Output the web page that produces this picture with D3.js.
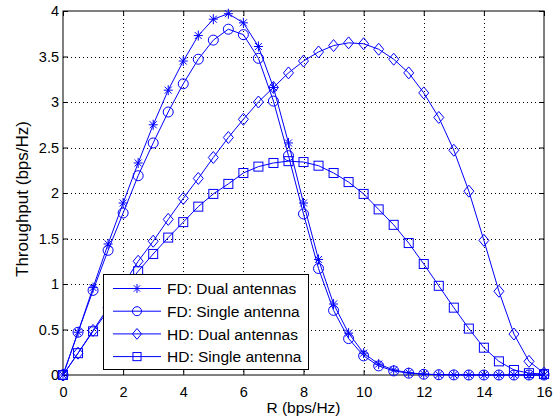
<!DOCTYPE html>
<html><head><meta charset="utf-8">
<script src="https://cdn.jsdelivr.net/npm/d3@7"></script>
<style>body{margin:0;background:#fff}svg text{font-family:"Liberation Sans",Arial,sans-serif}</style>
</head><body>
<svg id="c" width="555" height="419"></svg>
<script>
const R = d3.range(0, 16.01, 0.5);
const fdDual = [0,0.47,0.96,1.44,1.89,2.33,2.75,3.13,3.45,3.73,3.91,3.97,3.87,3.61,3.16,2.55,1.89,1.27,0.78,0.46,0.24,0.12,0.055,0.025,0.01,0.004,0.002,0.001,0,0,0,0,0];
const fdSingle = [0,0.47,0.93,1.37,1.78,2.19,2.55,2.89,3.2,3.47,3.68,3.8,3.74,3.48,3.01,2.41,1.77,1.17,0.71,0.40,0.21,0.10,0.045,0.02,0.008,0.003,0.001,0,0,0,0,0,0];
const hdDual = [0,0.24,0.49,0.74,0.99,1.25,1.47,1.71,1.94,2.16,2.39,2.61,2.81,3.0,3.16,3.32,3.45,3.55,3.62,3.65,3.64,3.58,3.47,3.32,3.10,2.83,2.47,2.02,1.48,0.92,0.45,0.15,0.02];
const hdSingle = [0,0.24,0.48,0.71,0.93,1.14,1.33,1.51,1.68,1.85,1.99,2.1,2.22,2.29,2.33,2.35,2.34,2.30,2.22,2.12,1.99,1.82,1.65,1.45,1.22,0.98,0.74,0.51,0.30,0.15,0.055,0.02,0.01];
const xTicks = [0,2,4,6,8,10,12,14,16];
const yTicks = [0,0.5,1,1.5,2,2.5,3,3.5,4];
const seriesNames = ["FD: Dual antennas","FD: Single antenna","HD: Dual antennas","HD: Single antenna"];
const seriesMarkers = ["asterisk","circle","diamond","square"];

const svg = d3.select("#c");
const L=63, Rr=544, T=11, B=375;
const x = d3.scaleLinear().domain([0,16]).range([L,Rr]);
const y = d3.scaleLinear().domain([0,4]).range([B,T]);
const blue = "#0000ff";

// grid
const g = svg.append("g");
g.selectAll(".gx").data(xTicks.slice(1,-1)).enter().append("line")
 .attr("x1",d=>Math.round(x(d))+0.5).attr("x2",d=>Math.round(x(d))+0.5).attr("y1",T).attr("y2",B)
 .attr("stroke","#000").attr("stroke-width",1).attr("stroke-dasharray","1,3");
g.selectAll(".gy").data(yTicks.slice(1,-1)).enter().append("line")
 .attr("y1",d=>Math.round(y(d))+0.5).attr("y2",d=>Math.round(y(d))+0.5).attr("x1",L).attr("x2",Rr)
 .attr("stroke","#000").attr("stroke-width",1).attr("stroke-dasharray","1,3");

// axes
const fmt = d=>String(d);
const ax = svg.append("g").attr("transform",`translate(0,${B})`)
 .call(d3.axisBottom(x).tickValues(xTicks).tickFormat(fmt).tickSizeInner(-5).tickSizeOuter(0).tickPadding(12));
const axT = svg.append("g").attr("transform",`translate(0,${T})`)
 .call(d3.axisTop(x).tickValues(xTicks).tickFormat("").tickSizeInner(-5).tickSizeOuter(0));
const ay = svg.append("g").attr("transform",`translate(${L},0)`)
 .call(d3.axisLeft(y).tickValues(yTicks).tickFormat(fmt).tickSizeInner(-5).tickSizeOuter(0).tickPadding(4));
const ayR = svg.append("g").attr("transform",`translate(${Rr},0)`)
 .call(d3.axisRight(y).tickValues(yTicks).tickFormat("").tickSizeInner(-5).tickSizeOuter(0));
[ax,axT,ay,ayR].forEach(a=>{a.select(".domain").remove();a.selectAll("line").attr("stroke","#000");a.selectAll("text").attr("font-size",14.5).attr("fill","#000");});
svg.append("rect").attr("x",L).attr("y",T).attr("width",Rr-L).attr("height",B-T)
 .attr("fill","none").attr("stroke","#000").attr("stroke-width",1);

// axis labels
svg.append("text").attr("x",(L+Rr)/2).attr("y",413).attr("text-anchor","middle").attr("font-size",15.5).text("R (bps/Hz)");
svg.append("text").attr("transform",`translate(28,199) rotate(-90)`).attr("text-anchor","middle").attr("font-size",16)
 .attr("textLength",156).attr("lengthAdjust","spacingAndGlyphs").text("Throughput (bps/Hz)");

function marker(sel, type, s){
  s = s||1;
  if(type==="circle"){
    sel.append("circle").attr("r",5*s).attr("fill","none").attr("stroke",blue);
  } else if(type==="square"){
    sel.append("rect").attr("x",-4.5*s).attr("y",-4.5*s).attr("width",9*s).attr("height",9*s).attr("fill","none").attr("stroke",blue);
  } else if(type==="diamond"){
    sel.append("path").attr("d",`M0,${-6*s}L${5*s},0L0,${6*s}L${-5*s},0Z`).attr("fill","none").attr("stroke",blue);
  } else {
    sel.append("path").attr("d",`M0,${-5*s}V${5*s}M${-4.5*s},0H${4.5*s}M${-3.5*s},${-3.5*s}L${3.5*s},${3.5*s}M${-3.5*s},${3.5*s}L${3.5*s},${-3.5*s}`).attr("fill","none").attr("stroke",blue);
  }
}

const allSeries = [fdDual, fdSingle, hdDual, hdSingle];
const line = d3.line().x((d,i)=>x(R[i])).y(d=>y(d));
const plot = svg.append("g");
allSeries.forEach((s,k)=>{
  plot.append("path").datum(s).attr("d",line).attr("fill","none").attr("stroke",blue).attr("stroke-width",1);
  const m = plot.selectAll(null).data(s).enter().append("g")
    .attr("transform",(d,i)=>`translate(${x(R[i])},${y(d)})`);
  marker(m, seriesMarkers[k]);
});

// legend
const lg = svg.append("g");
lg.append("rect").attr("x",103.5).attr("y",274.5).attr("width",205).attr("height",95)
  .attr("fill","#fff").attr("stroke","#000").attr("stroke-width",1);
seriesNames.forEach((n,k)=>{
  const yy = 288.5 + k*22.7;
  lg.append("line").attr("x1",113).attr("x2",161).attr("y1",yy).attr("y2",yy).attr("stroke",blue);
  marker(lg.append("g").attr("transform",`translate(137,${yy})`), seriesMarkers[k], 0.9);
  lg.append("text").attr("x",167).attr("y",yy+5.7).attr("font-size",15.5).text(n);
});
</script>
</body></html>
